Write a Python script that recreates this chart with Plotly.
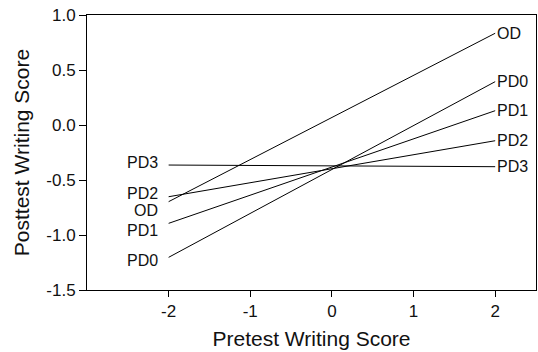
import plotly.graph_objects as go

# Data
groups = ["OD", "PD0", "PD1", "PD2", "PD3"]
x_points = [-2, 2]
y_start = [-0.697, -1.203, -0.894, -0.652, -0.364]   # at pretest = -2
y_end = [0.834, 0.394, 0.130, -0.143, -0.379]        # at pretest = 2
left_label_y = [-0.78, -1.23, -0.96, -0.62, -0.345]
x_ticks = [-2, -1, 0, 1, 2]
y_ticks = [-1.5, -1.0, -0.5, 0.0, 0.5, 1.0]

FONT = "Liberation Sans, Arial, Helvetica, sans-serif"

fig = go.Figure()
for g, y0, y1 in zip(groups, y_start, y_end):
    fig.add_trace(go.Scatter(x=x_points, y=[y0, y1], mode="lines",
                             line=dict(color="black", width=1), name=g,
                             showlegend=False, hoverinfo="skip"))

for g, y1 in zip(groups, y_end):
    fig.add_annotation(x=x_points[1], y=y1, text=g, showarrow=False,
                       xanchor="left", yanchor="middle", xshift=0,
                       font=dict(family=FONT, size=16, color="#111"))
for g, yl in zip(groups, left_label_y):
    fig.add_annotation(x=x_points[0], y=yl, text=g, showarrow=False,
                       xanchor="right", yanchor="middle", xshift=-9,
                       font=dict(family=FONT, size=16, color="#111"))

fig.update_layout(
    width=538, height=352,
    margin=dict(l=87, r=2, t=15, b=62),
    paper_bgcolor="white", plot_bgcolor="white",
    font=dict(family=FONT, size=17, color="#111"),
    xaxis=dict(range=[-3, 2.5], tickvals=x_ticks, ticktext=[str(v) for v in x_ticks],
               showgrid=False, zeroline=False, showline=True, linecolor="black",
               linewidth=1, mirror=True, ticks="outside", ticklen=6, tickcolor="black",
               tickfont=dict(size=17),
               title=dict(text="Pretest Writing Score", font=dict(size=21), standoff=10)),
    yaxis=dict(range=[-1.5, 1.0], tickvals=y_ticks, ticktext=[f"{v:.1f}" for v in y_ticks],
               showgrid=False, zeroline=False, showline=True, linecolor="black",
               linewidth=1, mirror=True, ticks="outside", ticklen=7, tickcolor="black",
               tickfont=dict(size=17),
               title=dict(text="Posttest Writing Score", font=dict(size=21), standoff=10)),
)

fig.write_html("out.html")
